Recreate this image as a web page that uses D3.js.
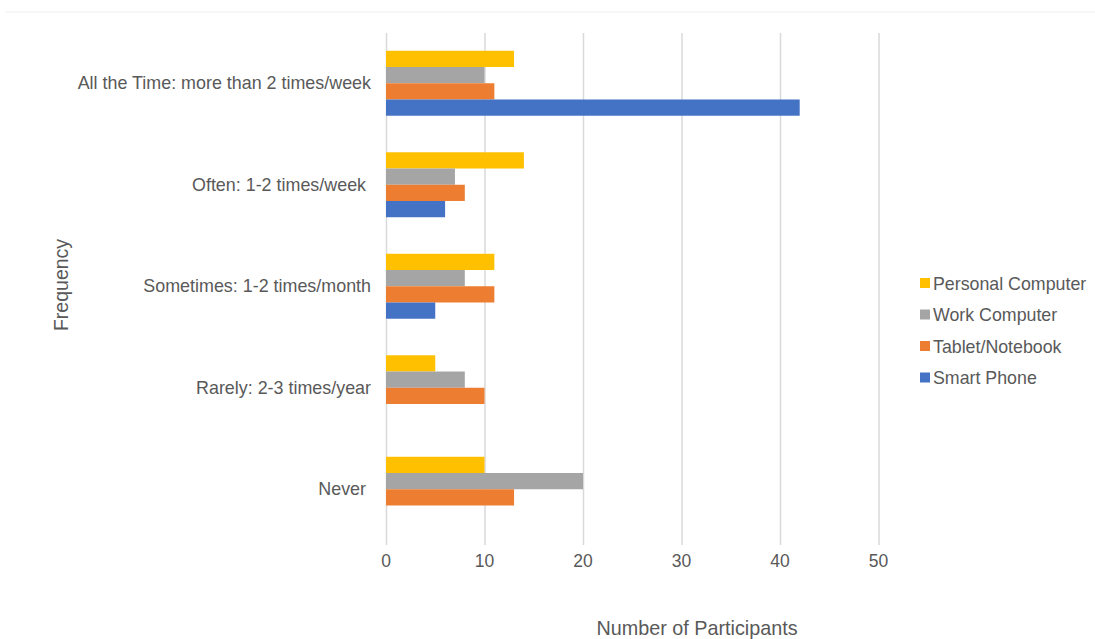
<!DOCTYPE html>
<html><head><meta charset="utf-8">
<script src="https://cdn.jsdelivr.net/npm/d3@7"></script>
<style>
body{margin:0;background:#fff;}
text{font-family:"Liberation Sans",Arial,Helvetica,sans-serif;fill:#595959;}
</style></head>
<body><svg id="chart" width="1095" height="639"></svg>
<script>
const categories = ["All the Time: more than 2 times/week","Often: 1-2 times/week ","Sometimes: 1-2 times/month","Rarely: 2-3 times/year","Never "];
const seriesNames = ["Personal Computer","Work Computer","Tablet/Notebook","Smart Phone"];
const personalComputer = [13,14,11,5,10];
const workComputer = [10,7,8,8,20];
const tabletNotebook = [11,8,11,10,13];
const smartPhone = [42,6,5,0,0];
const xTicks = [0,10,20,30,40,50];
const colors = ["#FFC000","#A5A5A5","#ED7D31","#4472C4"];

const series = [personalComputer, workComputer, tabletNotebook, smartPhone];
const svg = d3.select("#chart");

// faint top border
svg.append("line").attr("x1",5).attr("x2",1095).attr("y1",12).attr("y2",12)
  .attr("stroke","#f0f0f0").attr("stroke-width",1);

const x = d3.scaleLinear().domain([0,50]).range([386,878.5]);
const y = d3.scaleBand().domain(categories).range([32.5,540]).paddingInner(0.36).paddingOuter(0.18);
const inner = d3.scaleBand().domain(seriesNames).range([0,y.bandwidth()]);

// gridlines
svg.append("g").selectAll("line").data(xTicks).join("line")
  .attr("x1",d=>x(d)+0.5).attr("x2",d=>x(d)+0.5)
  .attr("y1",33).attr("y2",545)
  .attr("stroke","#d9d9d9").attr("stroke-width",1.5);

// bars
categories.forEach((c,ci)=>{
  seriesNames.forEach((s,si)=>{
    const v = series[si][ci];
    if(v<=0) return;
    svg.append("rect")
      .attr("x",x(0)).attr("y",y(c)+inner(s))
      .attr("width",x(v)-x(0)).attr("height",inner.bandwidth())
      .attr("fill",colors[si]);
  });
});

// x tick labels
svg.append("g").selectAll("text").data(xTicks).join("text")
  .attr("x",d=>x(d)).attr("y",566.5).attr("text-anchor","middle")
  .attr("font-size",17.5).text(d=>d);

// y category labels
svg.append("g").selectAll("text").data(categories).join("text")
  .attr("x",371).attr("y",d=>y(d)+y.bandwidth()/2+6).attr("text-anchor","end")
  .attr("font-size",17.9).style("white-space","pre").attr("xml:space","preserve").text(d=>d);

// axis titles
svg.append("text").attr("x",697).attr("y",635).attr("text-anchor","middle")
  .attr("font-size",19.8).text("Number of Participants");
svg.append("text").attr("transform","translate(68,285) rotate(-90)").attr("text-anchor","middle")
  .attr("font-size",19.5).text("Frequency");

// legend
const lg = svg.append("g");
seriesNames.forEach((s,i)=>{
  const yy = 283 + i*31.5;
  lg.append("rect").attr("x",920).attr("y",yy-5).attr("width",10).attr("height",10).attr("fill",colors[i]);
  lg.append("text").attr("x",933).attr("y",yy+6.5).attr("font-size",17.8).text(s);
});
</script></body></html>
